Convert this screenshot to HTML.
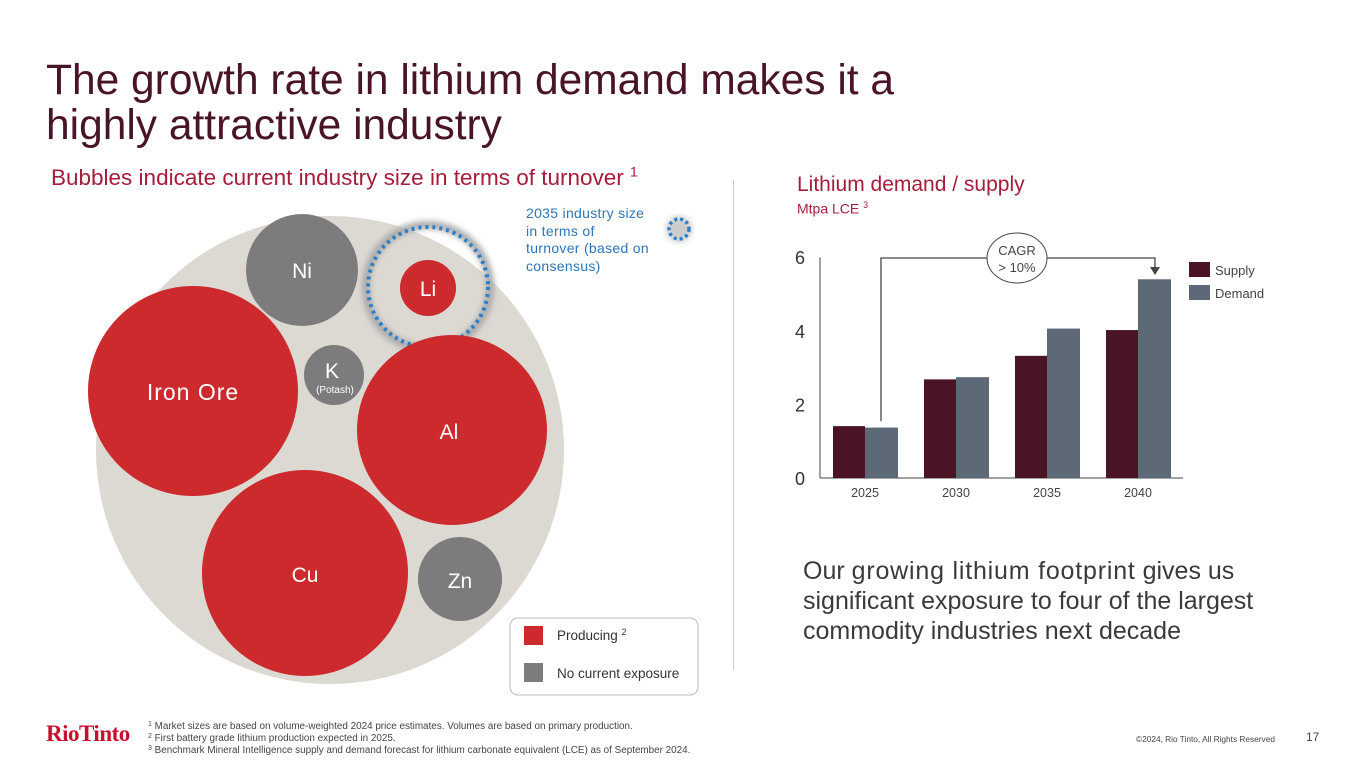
<!DOCTYPE html>
<html><head><meta charset="utf-8"><style>
body{margin:0;width:1365px;height:768px;background:#fff;font-family:"Liberation Sans",sans-serif;position:relative;overflow:hidden}
.a{position:absolute}
.fn sup{font-size:7px;line-height:0;vertical-align:0;position:relative;top:-3px}
</style></head><body>
<div class="a" style="left:46px;top:58px;font-size:42.5px;line-height:45px;color:#4a1428">The growth rate in lithium demand makes it a<br>highly attractive industry</div>
<div class="a" style="left:51px;top:165px;font-size:22.5px;color:#a51d3b">Bubbles indicate current industry size in terms of turnover <sup style="font-size:14px;line-height:0">1</sup></div>
<svg class="a" style="left:0;top:0" width="730" height="768">
<defs><filter id="bl"><feGaussianBlur stdDeviation="3"/></filter></defs>
<circle cx="330" cy="450" r="234" fill="#dcd8d2"/>
<circle cx="302" cy="270" r="56" fill="#7c7c7c"/>
<circle cx="428" cy="287" r="62" fill="none" stroke="#aaa" stroke-width="8" filter="url(#bl)"/>
<circle cx="428" cy="287" r="60" fill="none" stroke="#2b7fc9" stroke-width="4" stroke-dasharray="3 4"/>
<circle cx="428" cy="288" r="28" fill="#cc2a2d"/>
<circle cx="193" cy="391" r="105" fill="#cc2a2d"/>
<circle cx="334" cy="375" r="30" fill="#7c7c7c"/>
<circle cx="452" cy="430" r="95" fill="#cc2a2d"/>
<circle cx="305" cy="573" r="103" fill="#cc2a2d"/>
<circle cx="460" cy="579" r="42" fill="#7c7c7c"/>
<g fill="#fff" font-family="Liberation Sans" text-anchor="middle">
<text x="302" y="278" font-size="21">Ni</text>
<text x="428" y="296" font-size="21">Li</text>
<text x="193" y="400" font-size="23" letter-spacing="1">Iron Ore</text>
<text x="332" y="378" font-size="21">K</text>
<text x="335" y="393" font-size="10">(Potash)</text>
<text x="449" y="439" font-size="21">Al</text>
<text x="305" y="582" font-size="21">Cu</text>
<text x="460" y="588" font-size="21">Zn</text>
</g>
<circle cx="679" cy="229" r="13" fill="#ccc" filter="url(#bl)"/>
<circle cx="679" cy="229" r="10" fill="none" stroke="#2b7fc9" stroke-width="3.5" stroke-dasharray="3 3"/>
<rect x="510" y="618" width="188" height="77" rx="8" fill="#fff" stroke="#bbb"/>
<rect x="524" y="626" width="19" height="19" fill="#cc2a2d"/>
<rect x="524" y="663" width="19" height="19" fill="#7c7c7c"/>
<text x="557" y="640" font-size="13.5" fill="#333">Producing <tspan font-size="9" dy="-5">2</tspan></text>
<text x="557" y="678" font-size="13.5" fill="#333">No current exposure</text>
</svg>
<div class="a" style="left:526px;top:205px;font-size:14px;line-height:17.5px;color:#2e75b6;letter-spacing:.3px">2035 industry size<br>in terms of<br>turnover (based on<br>consensus)</div>
<div class="a" style="left:733px;top:180px;width:1px;height:490px;background:#ccc"></div>
<div class="a" style="left:797px;top:173px;font-size:21px;color:#a51d3b">Lithium demand / supply</div>
<div class="a" style="left:797px;top:200px;font-size:14px;color:#a51d3b">Mtpa LCE <sup style="font-size:9px">3</sup></div>
<svg class="a" id="ch" style="left:0;top:0" width="1365" height="768"></svg>
<div class="a" style="left:803px;top:556px;font-size:25px;line-height:30px;color:#3a3a3a">Our <span style="letter-spacing:.8px">growing lithium footprint</span> gives us<br>significant exposure to four of the largest<br>commodity industries next decade</div>
<div class="a" style="left:46px;top:721px;font-family:'Liberation Serif',serif;font-size:23px;font-weight:bold;color:#c8102e;letter-spacing:-.5px">RioTinto</div>
<div class="a fn" style="left:148px;top:721px;font-size:9.9px;line-height:12px;color:#444"><sup>1</sup> Market sizes are based on volume-weighted 2024 price estimates. Volumes are based on primary production.<br><sup>2</sup> First battery grade lithium production expected in 2025.<br><sup>3</sup> Benchmark Mineral Intelligence supply and demand forecast for lithium carbonate equivalent (LCE) as of September 2024.</div>
<div class="a" style="left:1136px;top:734px;font-size:8.3px;color:#444">©2024, Rio Tinto, All Rights Reserved</div>
<div class="a" style="left:1306px;top:730px;font-size:12px;color:#444">17</div>
<script>
const years=["2025","2030","2035","2040"];
const supply=[1.41,2.68,3.32,4.02];
const demand=[1.37,2.74,4.06,5.4];
const ticks=[0,2,4,6];
const svg=document.getElementById('ch');const NS='http://www.w3.org/2000/svg';
const y0=478,pu=36.8,x0=820;
const Y=v=>y0-v*pu;const X=i=>865+i*91;
function mk(t,a,txt){const e=document.createElementNS(NS,t);for(const k in a)e.setAttribute(k,a[k]);if(txt!=null)e.textContent=txt;svg.appendChild(e);return e;}
let e=mk('line',{x1:x0,y1:Y(6),x2:x0,y2:y0,stroke:'#444'});


e=mk('line',{x1:x0,y1:y0,x2:1183,y2:y0,stroke:'#444'});


ticks.forEach(t=>{e=mk('text',{x:800,y:Y(t)+7,'font-size':18,fill:'#333','text-anchor':'middle','font-family':'Liberation Sans'},t);

});
years.forEach((yr,i)=>{
e=mk('rect',{x:X(i)-32,y:Y(supply[i]),width:32,height:supply[i]*pu,fill:'#4a1425'});


e=mk('rect',{x:X(i),y:Y(demand[i]),width:33,height:demand[i]*pu,fill:'#5d6977'});


e=mk('text',{x:X(i),y:497,'font-size':12.5,fill:'#444','text-anchor':'middle','font-family':'Liberation Sans'},yr);


});
const ax1=881,ax2=1155,ly=258;
e=mk('polyline',{points:`${ax1},${Y(supply[0])-5} ${ax1},${ly} ${ax2},${ly} ${ax2},${ly+10}`,fill:'none',stroke:'#444','stroke-width':1.3});


mk('polygon',{points:`${ax2-5},${ly+9} ${ax2+5},${ly+9} ${ax2},${ly+17}`,fill:'#444'});
e=mk('ellipse',{cx:1017,cy:258,rx:30,ry:25,fill:'#fff',stroke:'#444'});


mk('text',{x:1017,y:255,'font-size':13,fill:'#444','text-anchor':'middle','font-family':'Liberation Sans'},'CAGR');
mk('text',{x:1017,y:272,'font-size':13,fill:'#444','text-anchor':'middle','font-family':'Liberation Sans'},'> 10%');
e=mk('rect',{x:1189,y:262,width:21,height:15,fill:'#4a1425'});


mk('text',{x:1215,y:275,'font-size':13,fill:'#444','font-family':'Liberation Sans'},'Supply');
e=mk('rect',{x:1189,y:285,width:21,height:15,fill:'#5d6977'});


mk('text',{x:1215,y:298,'font-size':13,fill:'#444','font-family':'Liberation Sans'},'Demand');
</script>
</body></html>
